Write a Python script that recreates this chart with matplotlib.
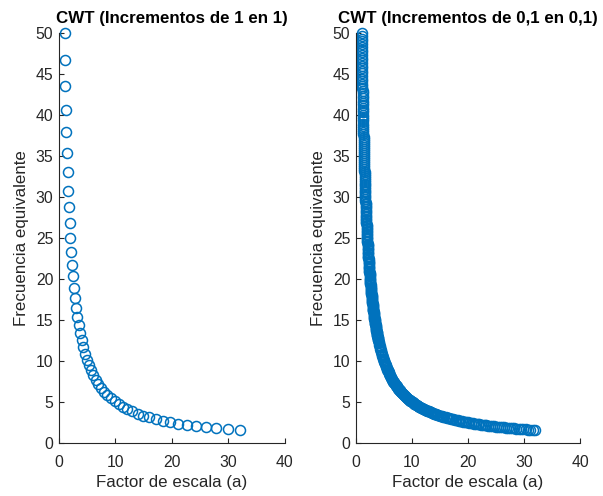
import matplotlib
matplotlib.use("Agg")
import matplotlib.pyplot as plt

# Left panel data: scale factor vs equivalent frequency
escala_1 = [1.000, 1.072, 1.149, 1.231, 1.320, 1.414, 1.516, 1.625, 1.741, 1.866,
            2.000, 2.144, 2.297, 2.462, 2.639, 2.828, 3.031, 3.249, 3.482, 3.732,
            4.000, 4.287, 4.595, 4.925, 5.278, 5.657, 6.063, 6.498, 6.964, 7.464,
            8.000, 8.574, 9.190, 9.849, 10.556, 11.314, 12.126, 12.996, 13.929, 14.929,
            16.000, 17.148, 18.379, 19.698, 21.112, 22.627, 24.251, 25.992, 27.858, 29.857,
            32.000]
frec_1 = [50.00, 46.65, 43.53, 40.61, 37.89, 35.36, 32.99, 30.78, 28.72, 26.79,
          25.00, 23.33, 21.76, 20.31, 18.95, 17.68, 16.49, 15.39, 14.36, 13.40,
          12.50, 11.66, 10.88, 10.15, 9.47, 8.84, 8.25, 7.69, 7.18, 6.70,
          6.25, 5.83, 5.44, 5.08, 4.74, 4.42, 4.12, 3.85, 3.59, 3.35,
          3.125, 2.92, 2.72, 2.54, 2.37, 2.21, 2.06, 1.92, 1.79, 1.67,
          1.5625]

# Right panel data (dense scales)
escala_2 = [1.000, 1.014, 1.028, 1.042, 1.057, 1.072, 1.087, 1.102, 1.117, 1.133,
            1.149, 1.165, 1.181, 1.197, 1.214, 1.231, 1.248, 1.266, 1.283, 1.301,
            1.320, 1.338, 1.357, 1.375, 1.395, 1.414, 1.434, 1.454, 1.474, 1.495,
            1.516, 1.537, 1.558, 1.580, 1.602, 1.625, 1.647, 1.670, 1.693, 1.717,
            1.741, 1.765, 1.790, 1.815, 1.840, 1.866, 1.892, 1.918, 1.945, 1.972,
            2.000, 2.028, 2.056, 2.085, 2.114, 2.144, 2.173, 2.204, 2.235, 2.266,
            2.297, 2.329, 2.362, 2.395, 2.428, 2.462, 2.497, 2.531, 2.567, 2.603,
            2.639, 2.676, 2.713, 2.751, 2.789, 2.828, 2.868, 2.908, 2.948, 2.990,
            3.031, 3.074, 3.117, 3.160, 3.204, 3.249, 3.294, 3.340, 3.387, 3.434,
            3.482, 3.531, 3.580, 3.630, 3.681, 3.732, 3.784, 3.837, 3.891, 3.945,
            4.000, 4.056, 4.112, 4.170, 4.228, 4.287, 4.347, 4.408, 4.469, 4.531,
            4.595, 4.659, 4.724, 4.790, 4.857, 4.925, 4.993, 5.063, 5.133, 5.205,
            5.278, 5.352, 5.426, 5.502, 5.579, 5.657, 5.736, 5.816, 5.897, 5.979,
            6.063, 6.147, 6.233, 6.320, 6.408, 6.498, 6.589, 6.681, 6.774, 6.868,
            6.964, 7.062, 7.160, 7.260, 7.361, 7.464, 7.568, 7.674, 7.781, 7.890,
            8.000, 8.112, 8.225, 8.340, 8.456, 8.574, 8.694, 8.815, 8.938, 9.063,
            9.190, 9.318, 9.448, 9.580, 9.713, 9.849, 9.986, 10.126, 10.267, 10.410,
            10.556, 10.703, 10.853, 11.004, 11.157, 11.314, 11.472, 11.632, 11.794, 11.958,
            12.126, 12.295, 12.466, 12.640, 12.817, 12.996, 13.177, 13.361, 13.547, 13.736,
            13.929, 14.123, 14.320, 14.520, 14.722, 14.929, 15.137, 15.348, 15.562, 15.779,
            16.000, 16.223, 16.450, 16.679, 16.912, 17.148, 17.388, 17.630, 17.876, 18.125,
            18.379, 18.636, 18.896, 19.159, 19.426, 19.698, 19.973, 20.252, 20.534, 20.820,
            21.112, 21.407, 21.705, 22.008, 22.315, 22.627, 22.943, 23.264, 23.588, 23.916,
            24.251, 24.590, 24.933, 25.281, 25.633, 25.992, 26.355, 26.722, 27.095, 27.473,
            27.858, 28.246, 28.640, 29.040, 29.445, 29.857, 30.274, 30.696, 31.124, 31.558,
            32.000]
frec_2 = [50.00, 49.31, 48.63, 47.96, 47.30, 46.65, 46.01, 45.38, 44.75, 44.14,
          43.53, 42.93, 42.34, 41.76, 41.18, 40.61, 40.05, 39.50, 38.96, 38.42,
          37.89, 37.37, 36.86, 36.35, 35.85, 35.36, 34.87, 34.39, 33.92, 33.45,
          32.99, 32.53, 32.09, 31.64, 31.21, 30.78, 30.36, 29.94, 29.53, 29.12,
          28.72, 28.32, 27.93, 27.55, 27.17, 26.79, 26.43, 26.06, 25.70, 25.35,
          25.00, 24.66, 24.32, 23.98, 23.65, 23.33, 23.01, 22.69, 22.38, 22.07,
          21.77, 21.47, 21.17, 20.88, 20.59, 20.31, 20.03, 19.75, 19.48, 19.21,
          18.95, 18.69, 18.43, 18.18, 17.93, 17.68, 17.44, 17.20, 16.96, 16.73,
          16.50, 16.27, 16.05, 15.82, 15.61, 15.39, 15.18, 14.97, 14.77, 14.56,
          14.36, 14.16, 13.97, 13.78, 13.59, 13.40, 13.22, 13.03, 12.85, 12.68,
          12.50, 12.33, 12.16, 11.99, 11.83, 11.66, 11.50, 11.35, 11.19, 11.04,
          10.88, 10.73, 10.59, 10.44, 10.30, 10.15, 10.01, 9.875, 9.74, 9.605,
          9.47, 9.34, 9.215, 9.09, 8.96, 8.84, 8.72, 8.60, 8.48, 8.36,
          8.25, 8.13, 8.02, 7.91, 7.80, 7.70, 7.59, 7.49, 7.38, 7.28,
          7.18, 7.08, 6.98, 6.89, 6.79, 6.70, 6.61, 6.52, 6.43, 6.34,
          6.25, 6.164, 6.079, 5.995, 5.913, 5.831, 5.751, 5.673, 5.594, 5.518,
          5.441, 5.366, 5.293, 5.220, 5.148, 5.076, 5.006, 4.938, 4.870, 4.803,
          4.736, 4.671, 4.608, 4.544, 4.481, 4.420, 4.359, 4.299, 4.240, 4.181,
          4.124, 4.066, 4.011, 3.955, 3.901, 3.848, 3.795, 3.743, 3.691, 3.640,
          3.590, 3.540, 3.491, 3.444, 3.396, 3.349, 3.304, 3.258, 3.213, 3.169,
          3.125, 3.082, 3.040, 2.998, 2.956, 2.916, 2.876, 2.836, 2.797, 2.759,
          2.721, 2.683, 2.646, 2.610, 2.574, 2.538, 2.504, 2.469, 2.435, 2.402,
          2.368, 2.336, 2.304, 2.272, 2.241, 2.210, 2.179, 2.149, 2.120, 2.091,
          2.062, 2.033, 2.005, 1.978, 1.951, 1.924, 1.897, 1.871, 1.845, 1.820,
          1.795, 1.770, 1.746, 1.722, 1.698, 1.675, 1.652, 1.629, 1.607, 1.584,
          1.5625]

# Extra intermediate scales of the right panel (first two octaves)
escala_2_fina = [1.0070, 1.0210, 1.0353, 1.0497, 1.0643, 1.0792, 1.0943, 1.1096, 1.1250, 1.1407,
                 1.1567, 1.1728, 1.1892, 1.2058, 1.2226, 1.2397, 1.2570, 1.2745, 1.2923, 1.3103,
                 1.3287, 1.3472, 1.3660, 1.3851, 1.4044, 1.4241, 1.4439, 1.4641, 1.4845, 1.5052,
                 1.5263, 1.5476, 1.5691, 1.5910, 1.6132, 1.6358, 1.6586, 1.6818, 1.7052, 1.7290,
                 1.7532, 1.7777, 1.8025, 1.8276, 1.8531, 1.8791, 1.9053, 1.9318, 1.9588, 1.9861,
                 2.0140, 2.0420, 2.0706, 2.0994, 2.1286, 2.1584, 2.1886, 2.2192, 2.2500, 2.2814,
                 2.3134, 2.3456, 2.3784, 2.4116, 2.4452, 2.4794, 2.5140, 2.5490, 2.5846, 2.6206,
                 2.6574, 2.6944, 2.7320, 2.7702, 2.8088, 2.8482, 2.8878, 2.9282, 2.9690, 3.0104,
                 3.0526, 3.0952, 3.1382, 3.1820, 3.2264, 3.2716, 3.3172, 3.3636, 3.4104, 3.4580,
                 3.5064, 3.5554, 3.6050, 3.6552, 3.7062, 3.7582, 3.8106, 3.8636, 3.9176, 3.9722]
frec_2_fina = [49.66, 48.97, 48.30, 47.63, 46.98, 46.33, 45.69, 45.06, 44.44, 43.83,
               43.23, 42.63, 42.05, 41.47, 40.90, 40.33, 39.78, 39.23, 38.69, 38.16,
               37.63, 37.12, 36.60, 36.10, 35.60, 35.11, 34.63, 34.15, 33.68, 33.22,
               32.76, 32.31, 31.87, 31.43, 30.99, 30.57, 30.15, 29.73, 29.32, 28.92,
               28.52, 28.13, 27.74, 27.36, 26.98, 26.61, 26.24, 25.88, 25.53, 25.17,
               24.83, 24.49, 24.15, 23.82, 23.49, 23.17, 22.85, 22.53, 22.22, 21.92,
               21.62, 21.32, 21.03, 20.74, 20.45, 20.17, 19.89, 19.62, 19.35, 19.08,
               18.82, 18.56, 18.30, 18.05, 17.80, 17.56, 17.32, 17.08, 16.84, 16.61,
               16.38, 16.16, 15.94, 15.72, 15.50, 15.29, 15.08, 14.87, 14.66, 14.46,
               14.26, 14.07, 13.87, 13.68, 13.49, 13.31, 13.12, 12.94, 12.77, 12.59]

titulos = ["CWT (Incrementos de 1 en 1)", "CWT (Incrementos de 0,1 en 0,1)"]
x_ticks = [0, 10, 20, 30, 40]
y_ticks = [0, 5, 10, 15, 20, 25, 30, 35, 40, 45, 50]

plt.rcParams['font.family'] = ['Liberation Sans', 'DejaVu Sans']
azul = '#0072BD'
gris = '#262626'

fig = plt.figure(figsize=(6.03, 4.96), dpi=100)
ax1 = fig.add_axes([0.0978, 0.1069, 0.3748, 0.8266])
ax2 = fig.add_axes([0.5904, 0.1069, 0.3715, 0.8266])

paneles = [(ax1, escala_1, frec_1, titulos[0]),
           (ax2, escala_2 + escala_2_fina, frec_2 + frec_2_fina, titulos[1])]

for ax, xs, ys, t in paneles:
    ax.plot(xs, ys, linestyle='none', marker='o', markersize=7.2,
            markerfacecolor='none', markeredgecolor=azul, markeredgewidth=1.1,
            clip_on=False)
    ax.set_xlim(0, 40)
    ax.set_ylim(0, 50)
    ax.set_xticks(x_ticks)
    ax.set_yticks(y_ticks)
    ax.spines['top'].set_visible(False)
    ax.spines['right'].set_visible(False)
    for s in ['left', 'bottom']:
        ax.spines[s].set_color(gris)
        ax.spines[s].set_linewidth(0.8)
    ax.tick_params(direction='in', length=3.5, width=0.8, colors=gris,
                   labelsize=11.3)
    ax.tick_params(axis='x', pad=8.5)
    ax.tick_params(axis='y', pad=4)
    ax.set_title(t, fontsize=12.2, fontweight='bold', color='black', pad=7)
    ax.set_xlabel('Factor de escala (a)', fontsize=12.2, color=gris, labelpad=4)
    ax.set_ylabel('Frecuencia equivalente', fontsize=12.2, color=gris, labelpad=5)

fig.savefig('out.png', dpi=100)
